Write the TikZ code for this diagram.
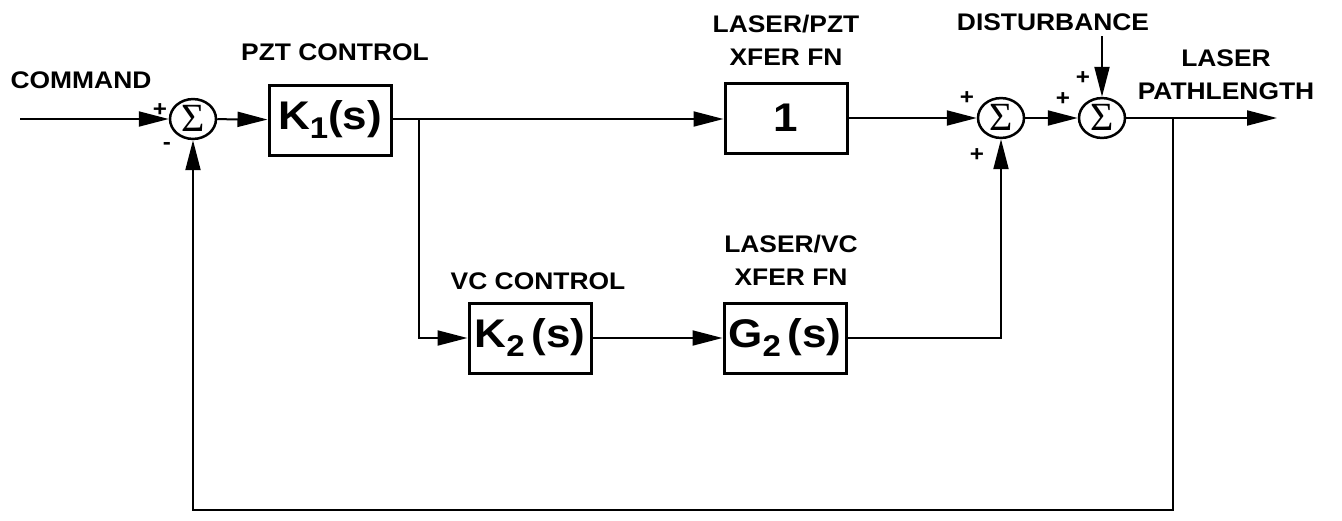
\documentclass[tikz,border=0pt]{standalone}
\usepackage{fontspec}
\newfontfamily\labfont{Liberation Sans}[FakeStretch=1.1]
\newfontfamily\sigfont{Liberation Serif}
\usetikzlibrary{shapes.geometric,arrows.meta}
\tikzset{
  lab/.style={font=\labfont\bfseries\fontsize{24}{33}\selectfont, align=center, inner sep=0pt},
  blk/.style={draw, line width=3pt, minimum width=122pt, minimum height=70pt, inner sep=0pt,
    font=\labfont\bfseries\fontsize{40}{40}\selectfont},
  sumn/.style={ellipse, draw, line width=2.5pt, minimum width=46pt, minimum height=38pt, inner sep=0pt,
    font=\sigfont\fontsize{40}{40}\selectfont},
  sgn/.style={font=\labfont\bfseries\fontsize{22}{22}\selectfont, inner sep=0pt},
  conn/.style={line width=2pt, -{Triangle[length=30pt,width=15pt]}},
}
\newcommand{\subsc}[1]{\raisebox{-9pt}{\fontsize{30}{30}\selectfont #1}}
\begin{document}
\begin{tikzpicture}[x=1pt,y=-1pt]
\useasboundingbox (0,0) rectangle (1342,520);
% blocks
\node[blk] (k1) at (330,120) {K\subsc{1}(s)};
\node[blk] (b1) at (786,118) {1};
\node[blk] (k2) at (530,338) {K\subsc{2}\,(s)};
\node[blk] (g2) at (785,338) {G\subsc{2}\,(s)};
% sums
\node[sumn] (s1) at (193,119) {\raisebox{2pt}{Σ}};
\node[sumn] (s2) at (1001,118) {\raisebox{2pt}{Σ}};
\node[sumn] (s3) at (1102,118) {\raisebox{2pt}{Σ}};
% labels
\node[lab] (lcmd) at (81,80) {COMMAND};
\node[lab] (lpzt) at (335,52) {PZT CONTROL};
\node[lab] (llp) at (786,40) {LASER/PZT\\XFER FN};
\node[lab] (ldist) at (1053,22) {DISTURBANCE};
\node[lab] (lout) at (1226,75) {LASER\\PATHLENGTH};
\node[lab] (lvc) at (538,281) {VC CONTROL};
\node[lab] (llv) at (791,260) {LASER/VC\\XFER FN};
% signs
\node[sgn] (p1) at (160,110) {+};
\node[sgn] (m1) at (167,146) {-};
\node[sgn] (p2a) at (967,98) {+};
\node[sgn] (p2b) at (977,155) {+};
\node[sgn] (p3a) at (1063,99) {+};
\node[sgn] (p3b) at (1083,78) {+};
% coordinates
\coordinate (cmd) at (20,119);
\coordinate (br) at (419,119);
\coordinate (dist) at (1102,36);
\coordinate (out) at (1277,118);
\coordinate (fb) at (1173,118);
\coordinate (fb1) at (1173,510);
% connectors
\draw[conn] (cmd) -- (s1.west);
\draw[conn] (s1) -- (k1);
\draw[conn] (k1.east |- br) -- (b1.west |- br);
\draw[conn] (br) |- (k2.west);
\draw[conn] (k2) -- (g2);
\draw[conn] (g2.east) -| (s2.south);
\draw[conn] (b1) -- (s2);
\draw[conn] (s2) -- (s3);
\draw[conn] (s3) -- (out);
\draw[conn] (dist) -- (s3.north);
\draw[conn] (fb) -- (fb1) -| (s1.south);
\end{tikzpicture}
\end{document}
